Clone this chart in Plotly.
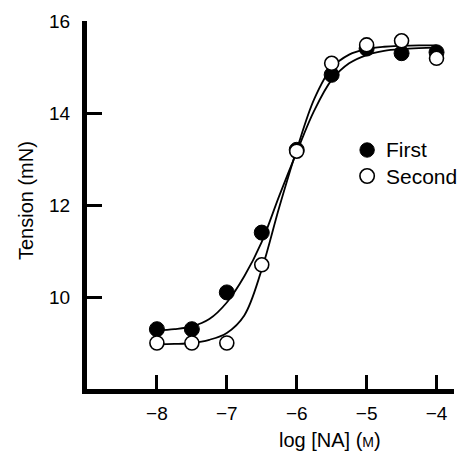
import plotly.graph_objects as go

# Data
log_na = [-8, -7.5, -7, -6.5, -6, -5.5, -5, -4.5, -4]
first = [9.3, 9.3, 10.1, 11.4, 13.2, 14.83, 15.4, 15.3, 15.32]
second = [9.0, 9.0, 9.0, 10.7, 13.17, 15.08, 15.48, 15.57, 15.19]

curve_x = [-8, -7.75, -7.5, -7.25, -7, -6.75, -6.5, -6.25, -6, -5.75, -5.5,
           -5.25, -5, -4.75, -4.5, -4.25, -4]
first_curve = [9.27, 9.3, 9.36, 9.52, 9.88, 10.45, 11.2, 12.2, 13.15, 14.05,
               14.72, 15.08, 15.26, 15.35, 15.39, 15.41, 15.42]
second_curve = [8.97, 8.98, 9.0, 9.07, 9.22, 9.6, 10.6, 11.95, 13.2, 14.3,
                14.98, 15.27, 15.39, 15.44, 15.46, 15.47, 15.47]

x_ticks = [-8, -7, -6, -5, -4]
y_ticks = [10, 12, 14, 16]
legend_names = ["First", "Second"]

FONT = "Liberation Sans, Arial, sans-serif"

fig = go.Figure()
fig.add_trace(go.Scatter(x=curve_x, y=first_curve, mode="lines",
                         line=dict(color="black", width=1.8, shape="spline"),
                         showlegend=False, hoverinfo="skip"))
fig.add_trace(go.Scatter(x=curve_x, y=second_curve, mode="lines",
                         line=dict(color="black", width=1.8, shape="spline"),
                         showlegend=False, hoverinfo="skip"))
fig.add_trace(go.Scatter(x=log_na, y=first, mode="markers", name=legend_names[0],
                         marker=dict(symbol="circle", size=15, color="black",
                                     line=dict(color="black", width=1)),
                         cliponaxis=False, showlegend=False))
fig.add_trace(go.Scatter(x=log_na, y=second, mode="markers", name=legend_names[1],
                         marker=dict(symbol="circle", size=14, color="white",
                                     line=dict(color="black", width=1.6)),
                         cliponaxis=False, showlegend=False))

# Manual legend (paper coords, pixel-sized circles)
PW = 461 - 87 - 6.5
PH = 452 - 21 - 63
def px(xp):
    return (xp - 87) / PW
def py(yp):
    return (452 - 63 - yp) / PH

shapes = []
annotations = []
leg_items = [(legend_names[0], 150, "black", 1), (legend_names[1], 176, "white", 1.6)]
for name, yc, fill, lw in leg_items:
    shapes.append(dict(type="circle", xref="paper", yref="paper",
                       xsizemode="pixel", ysizemode="pixel",
                       xanchor=px(367.5), yanchor=py(yc),
                       x0=-7.2, x1=7.2, y0=-7.2, y1=7.2,
                       fillcolor=fill, line=dict(color="black", width=lw)))
    annotations.append(dict(text=name, xref="paper", yref="paper",
                            x=px(384), y=py(yc), xanchor="left", yanchor="middle",
                            showarrow=False, font=dict(size=21, family=FONT)))

annotations += [
    dict(text="log [NA] (<span style='font-size:14px'>M</span>)",
         xref="paper", yref="paper", x=0.661, y=-0.139,
         xanchor="center", yanchor="middle", showarrow=False,
         font=dict(size=20, family=FONT)),
    dict(text="Tension (mN)", xref="paper", yref="paper",
         x=-0.166, y=0.511, xanchor="center", yanchor="middle",
         textangle=-90, showarrow=False, font=dict(size=20, family=FONT)),
]

fig.update_layout(
    width=461, height=452,
    margin=dict(l=87, r=6.5, t=21, b=63),
    paper_bgcolor="white", plot_bgcolor="white",
    font=dict(family=FONT, color="black"),
    showlegend=False,
    shapes=shapes,
    annotations=annotations,
)
fig.update_xaxes(range=[-9, -3.75], tickvals=x_ticks, showgrid=False,
                 zeroline=False, showline=True, linecolor="black", linewidth=5,
                 ticks="inside", ticklen=14, tickwidth=2.5, tickcolor="black",
                 tickfont=dict(size=19, family=FONT), ticklabelstandoff=3)
fig.update_yaxes(range=[8, 16], tickvals=y_ticks, showgrid=False,
                 zeroline=False, showline=True, linecolor="black", linewidth=5,
                 ticks="inside", ticklen=15, tickwidth=2.5, tickcolor="black",
                 tickfont=dict(size=19, family=FONT), ticklabelstandoff=8)

fig.write_html("out.html")
